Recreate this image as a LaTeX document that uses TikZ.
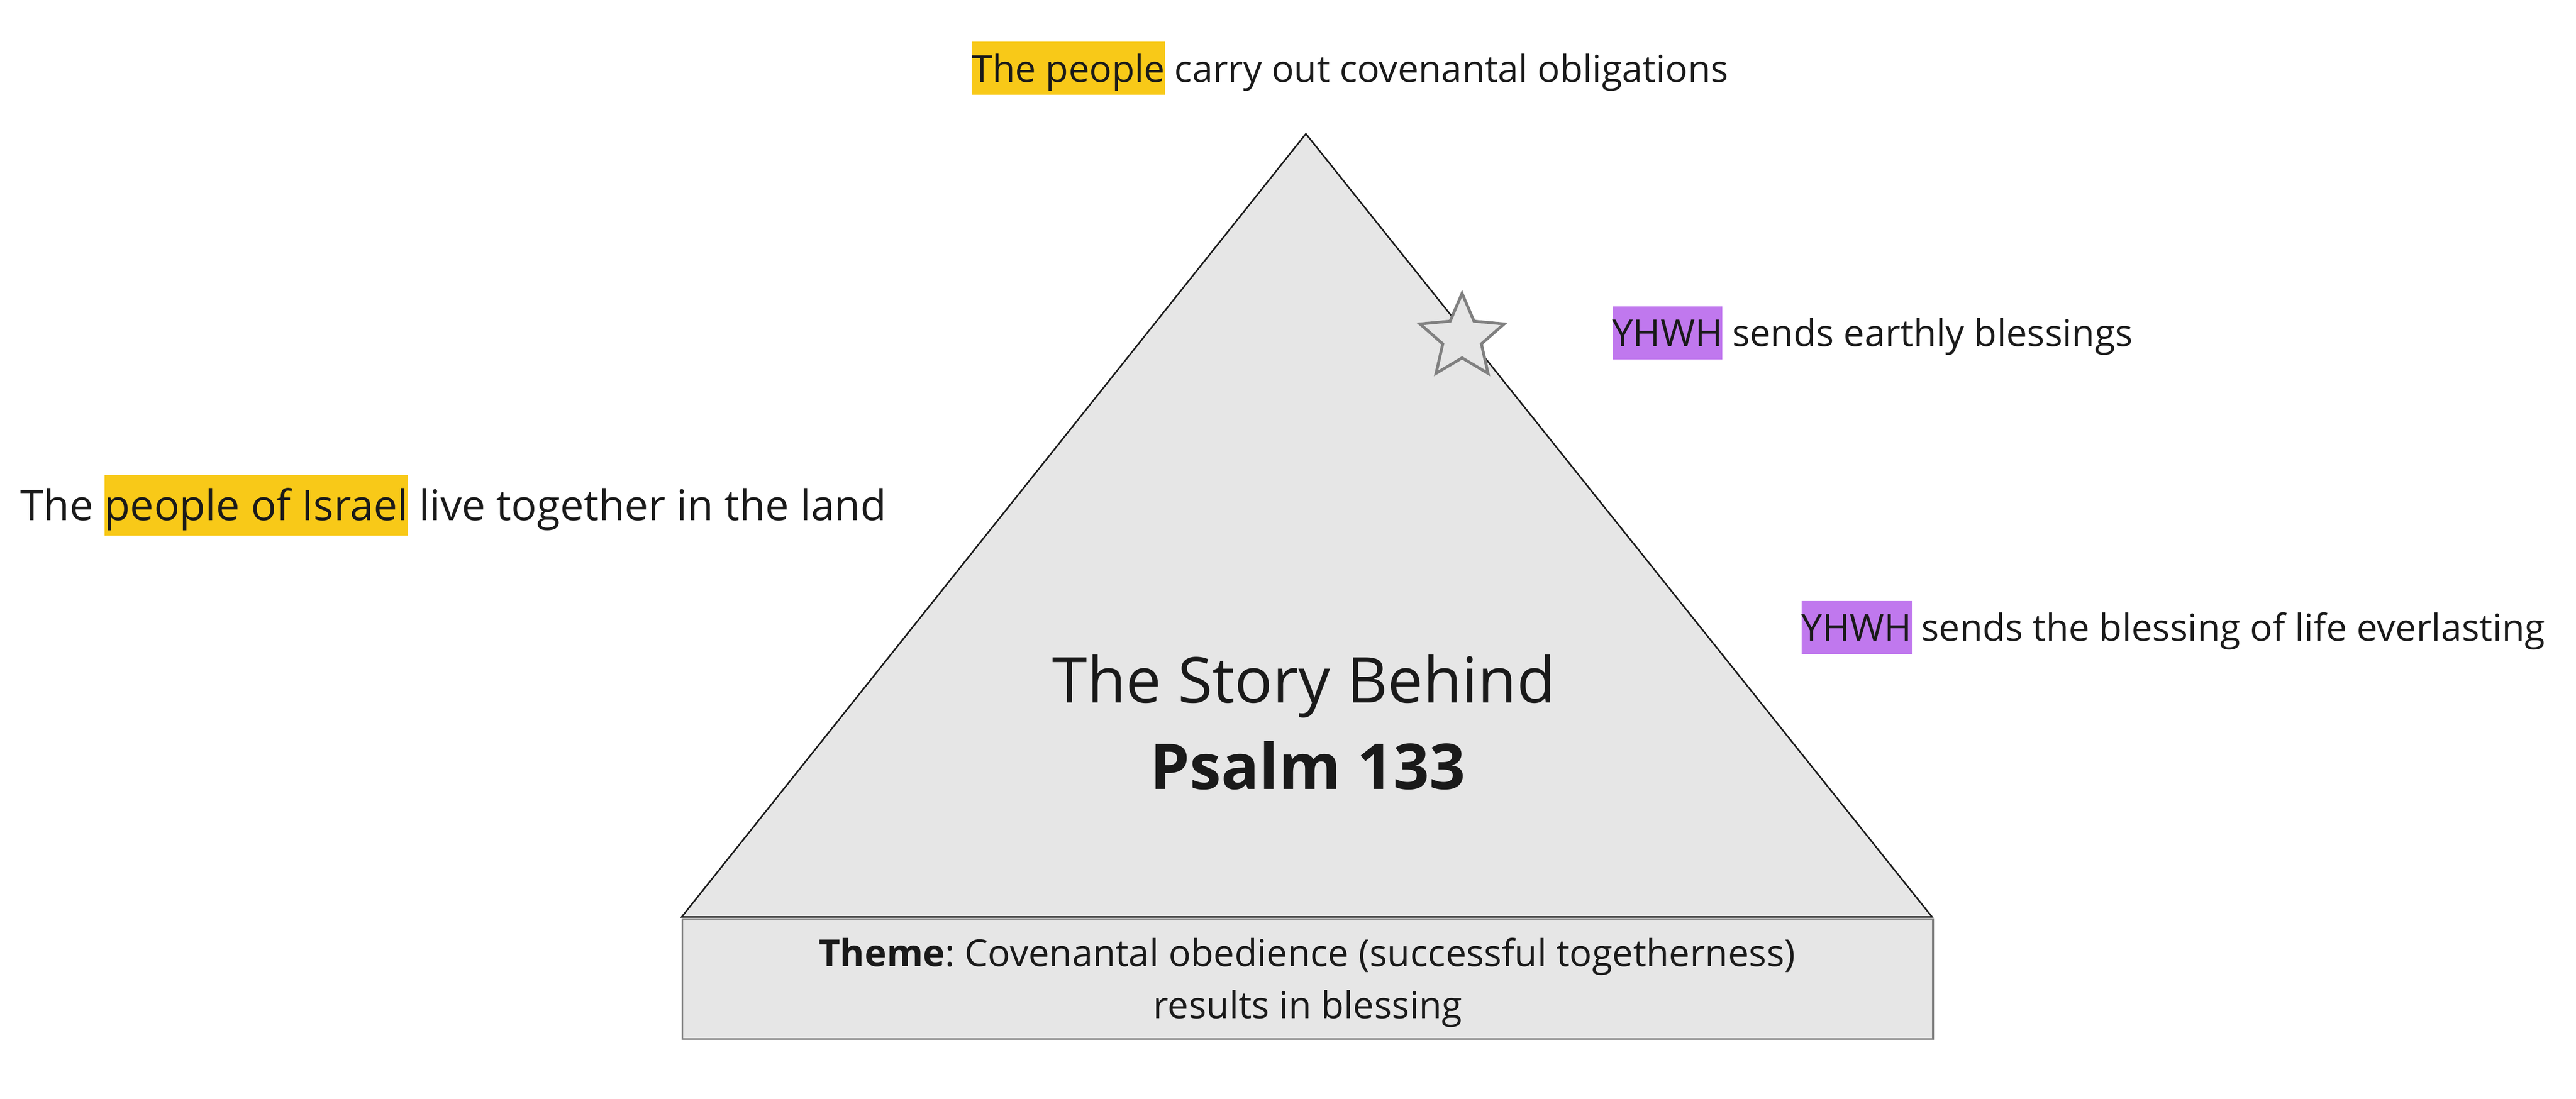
\documentclass[tikz,border=0pt]{standalone}
\usepackage{fontspec}
\setmainfont{Open Sans}
\usetikzlibrary{shapes.geometric}
\definecolor{triFill}{HTML}{E6E6E6}
\definecolor{boxLine}{HTML}{808080}
\definecolor{hlYellow}{HTML}{F8C918}
\definecolor{hlPurple}{HTML}{C078EE}
\definecolor{ink}{HTML}{1A1A1A}
\newcommand\hlbox[2]{{\setlength{\fboxsep}{0pt}\colorbox{#1}{\rule[-0.35em]{0pt}{1.43em}#2}}}
\frenchspacing
\begin{document}
\begin{tikzpicture}[x=1cm,y=1cm,
  lbl/.style={anchor=base west, inner sep=0pt, text=ink, font=\fontsize{27.5pt}{33pt}\selectfont},
  biglbl/.style={lbl, font=\fontsize{31.3pt}{38pt}\selectfont},
  titlelbl/.style={anchor=base, inner sep=0pt, text=ink, font=\fontsize{46.7pt}{56pt}\selectfont},
  themelbl/.style={anchor=base, inner sep=0pt, text=ink, font=\fontsize{27.5pt}{33pt}\selectfont}]
\useasboundingbox (0,0) rectangle (66.97,-28.58);
% theme box
\node[draw=boxLine, fill=triFill, line width=0.045cm, minimum width=32.51cm, minimum height=3.12cm, inner sep=0pt, anchor=north west] (themebox) at (17.72,-23.88) {};
% triangle
\coordinate (apex) at (33.95,-3.48);
\coordinate (bl) at (17.72,-23.85);
\coordinate (br) at (50.23,-23.85);
\draw[fill=triFill, draw=ink, line width=0.04cm, line join=miter] (apex) -- (br) -- (bl) -- cycle;
% star
\node[star, star points=5, star point ratio=2.18, minimum size=2.3cm, inner sep=0pt, draw=boxLine, fill=triFill, line width=0.075cm] (star) at (38.01,-8.78) {};
% title
\node[titlelbl] (title1) at (33.90,-18.28) {The Story Behind};
\node[titlelbl, font=\fontsize{46.7pt}{56pt}\selectfont\bfseries] (title2) at (34.00,-20.53) {Psalm 133};
% theme text
\node[themelbl] (theme1) at (33.98,-25.14) {\textbf{Theme}: Covenantal obedience (successful togetherness)};
\node[themelbl] (theme2) at (34.00,-26.49) {results in blessing};
% labels
\node[lbl] (top) at (25.26,-2.13) {\hlbox{hlYellow}{The people} carry out covenantal obligations};
\node[biglbl] (left) at (0.52,-13.54) {The \hlbox{hlYellow}{people of Israel} live together in the land};
\node[lbl] (right1) at (41.91,-9.01) {\hlbox{hlPurple}{YHWH} sends earthly blessings};
\node[lbl] (right2) at (46.83,-16.67) {\hlbox{hlPurple}{YHWH} sends the blessing of life everlasting};
\end{tikzpicture}
\end{document}
